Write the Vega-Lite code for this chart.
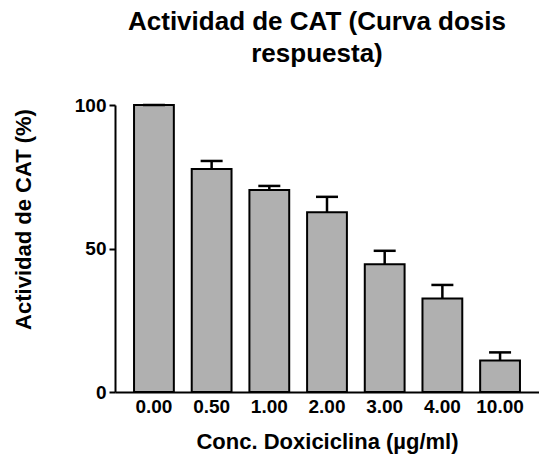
{
  "$schema": "https://vega.github.io/schema/vega-lite/v6.json",
  "autosize": "none",
  "width": 424,
  "height": 287,
  "padding": {"left": 115, "top": 105, "right": 0, "bottom": 64},
  "background": "white",
  "config": {
    "view": {"stroke": null},
    "font": "Liberation Sans"
  },
  "title": {
    "text": ["Actividad de CAT (Curva dosis", "respuesta)"],
    "font": "Liberation Sans",
    "fontSize": 26,
    "fontWeight": "bold",
    "color": "black",
    "lineHeight": 32,
    "anchor": "middle",
    "dx": -10,
    "offset": 29
  },
  "data": {
    "values": [
      {"conc": "0.00", "act": 100, "upper": 100},
      {"conc": "0.50", "act": 77.7, "upper": 80.5},
      {"conc": "1.00", "act": 70.4, "upper": 71.8},
      {"conc": "2.00", "act": 62.6, "upper": 68.0},
      {"conc": "3.00", "act": 44.5, "upper": 49.2},
      {"conc": "4.00", "act": 32.6, "upper": 37.3},
      {"conc": "10.00", "act": 11.0, "upper": 13.8}
    ]
  },
  "encoding": {
    "x": {
      "field": "conc",
      "type": "ordinal",
      "sort": null,
      "scale": {"paddingInner": 0.31, "paddingOuter": 0.33},
      "axis": {
        "title": "Conc. Doxiciclina (µg/ml)",
        "titleFont": "Liberation Sans",
        "titleFontSize": 22,
        "titleFontWeight": "bold",
        "titleColor": "black",
        "titlePadding": 15,
        "labelAngle": 0,
        "labelFontSize": 19,
        "labelFontWeight": "bold",
        "labelColor": "black",
        "labelPadding": 5,
        "ticks": false,
        "domainColor": "black",
        "domainWidth": 2
      }
    }
  },
  "layer": [
    {
      "mark": {"type": "bar", "fill": "#b0b0b0", "stroke": "black", "strokeWidth": 2},
      "encoding": {
        "y": {
          "field": "act",
          "type": "quantitative",
          "scale": {"domain": [0, 100], "nice": false},
          "axis": {
            "title": "Actividad de CAT (%)",
            "titleFont": "Liberation Sans",
            "titleFontSize": 22,
            "titleFontWeight": "bold",
            "titleColor": "black",
            "titleX": -80,
            "titleY": 114,
            "values": [0, 50, 100],
            "grid": false,
            "labelFontSize": 19,
            "labelFontWeight": "bold",
            "labelColor": "black",
            "labelPadding": 3,
            "tickSize": 6,
            "tickWidth": 2,
            "tickColor": "black",
            "domainColor": "black",
            "domainWidth": 2
          }
        }
      }
    },
    {
      "mark": {"type": "rule", "stroke": "black", "strokeWidth": 2.5},
      "encoding": {
        "y": {"field": "act", "type": "quantitative"},
        "y2": {"field": "upper"}
      }
    },
    {
      "mark": {"type": "tick", "color": "black", "size": 22, "thickness": 2.5, "opacity": 1},
      "encoding": {
        "y": {"field": "upper", "type": "quantitative"}
      }
    }
  ]
}
